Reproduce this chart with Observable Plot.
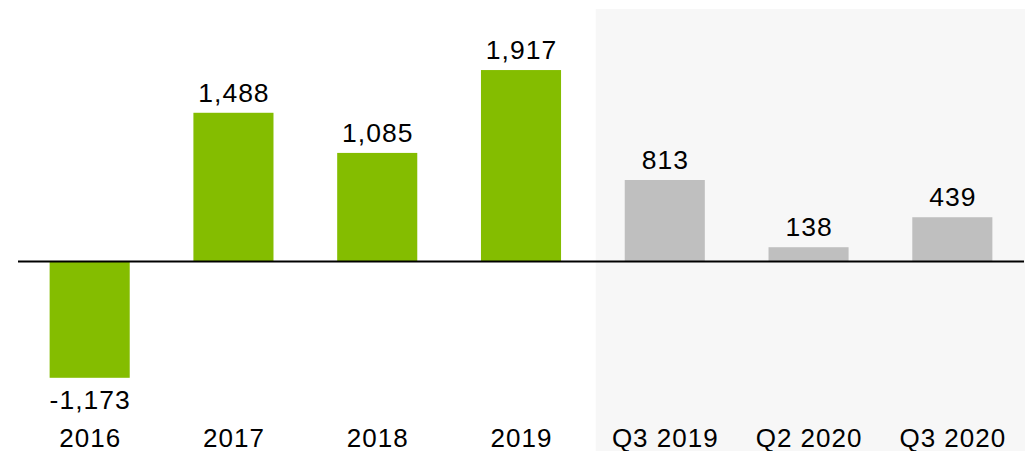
<!DOCTYPE html>
<html>
<head>
<meta charset="utf-8">
<script src="https://cdn.jsdelivr.net/npm/d3@7"></script>
<script src="https://cdn.jsdelivr.net/npm/@observablehq/plot@0.6"></script>
<style>
  html, body { margin: 0; padding: 0; background: #ffffff; }
  svg { display: block; }
</style>
</head>
<body>
<div id="chart"></div>
<script>
// Data
const categories = ["2016", "2017", "2018", "2019", "Q3 2019", "Q2 2020", "Q3 2020"];
const values = [-1173, 1488, 1085, 1917, 813, 138, 439];
const kinds = ["year", "year", "year", "year", "quarter", "quarter", "quarter"];
const shadedCategories = ["Q3 2019", "Q2 2020", "Q3 2020"];
const yDomain = [-1908, 2530];

const kindColors = {year: "#84bd00", quarter: "#bfbfbf"};
const data = categories.map((c, i) => ({category: c, value: values[i], kind: kinds[i]}));
const fmt = v => v.toLocaleString("en-US");

const chart = Plot.plot({
  width: 1025,
  height: 451,
  marginTop: 9,
  marginBottom: 0,
  marginLeft: 18,
  marginRight: 1,
  style: {
    fontFamily: "'Liberation Sans', Arial, sans-serif",
    letterSpacing: "1px",
    color: "#000",
    background: "#fff"
  },
  x: {type: "band", domain: categories, paddingInner: 0.443, paddingOuter: 0.22, round: false, axis: null},
  y: {domain: yDomain, axis: null},
  marks: [
    // shaded background behind the quarterly bars
    Plot.barY(shadedCategories, {
      x: d => d, y1: yDomain[0], y2: yDomain[1],
      fill: "#f7f7f7", insetLeft: -29, insetRight: -36
    }),
    Plot.barY(data, {
      x: "category", y: "value",
      fill: d => kindColors[d.kind]
    }),
    Plot.ruleY([0], {stroke: "#000", strokeWidth: 2}),
    Plot.text(data.filter(d => d.value >= 0), {
      x: "category", y: "value", text: d => fmt(d.value),
      lineAnchor: "bottom", dy: -11.5, fontSize: 26.5, fill: "#000"
    }),
    Plot.text(data.filter(d => d.value < 0), {
      x: "category", y: "value", text: d => fmt(d.value),
      lineAnchor: "top", dy: 11.6, fontSize: 26.5, fill: "#000"
    }),
    Plot.text(categories, {
      x: d => d, frameAnchor: "bottom", lineAnchor: "bottom",
      dy: -5, fontSize: 26, fill: "#000"
    })
  ]
});
document.getElementById("chart").appendChild(chart);
</script>
</body>
</html>
